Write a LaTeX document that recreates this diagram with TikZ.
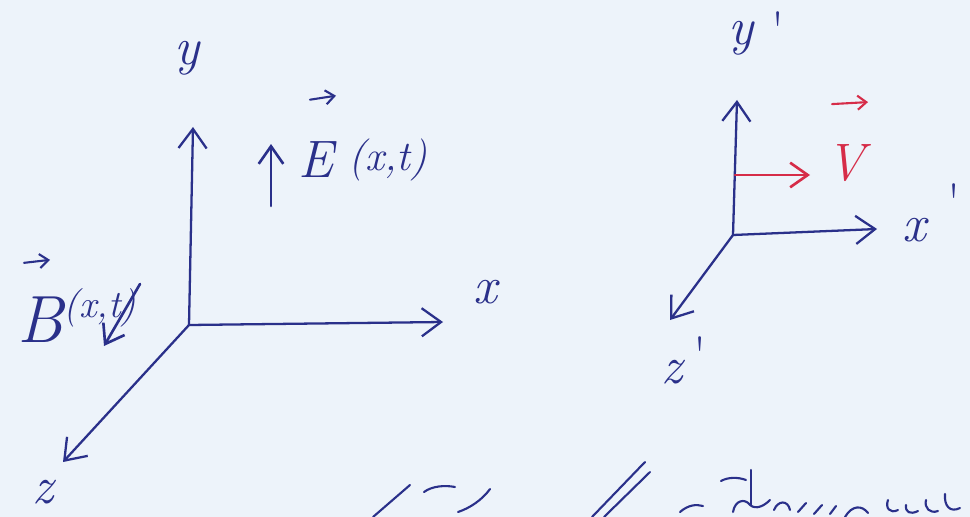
\documentclass[tikz,border=0pt]{standalone}
\usepackage{fontspec}
\usepackage{tikz}
\usetikzlibrary{arrows.meta, positioning, calc}

\definecolor{ink}{RGB}{42,48,138}
\definecolor{redink}{RGB}{214,44,72}
\definecolor{paper}{RGB}{237,243,250}

\begin{document}
\begin{tikzpicture}[
    x=0.02cm, y=-0.02cm,
    % Line styles
    axis/.style={
        draw=ink, line width=1.3pt, line cap=round,
        -{Straight Barb[length=11pt, width=16pt, line width=1.3pt]},
    },
    field/.style={
        draw=#1, line width=1.5pt, line cap=round,
        -{Straight Barb[length=10pt, width=14pt, line width=1.5pt]},
    },
    field/.default=ink,
    vecmark/.style={
        draw=#1, line width=1.2pt, line cap=round,
        -{Straight Barb[length=5pt, width=8pt, line width=1.2pt]},
    },
    vecmark/.default=ink,
    scrawl/.style={
        draw=ink, line width=1.2pt, line cap=round,
    },
    % Text styles
    hand/.style={
        text=#1, inner sep=0pt,
        font=\fontsize{30}{32}\selectfont\itshape,
    },
    hand/.default=ink,
    smallhand/.style={
        text=ink, inner sep=0pt,
        font=\fontsize{24}{26}\selectfont\itshape,
    },
    bighand/.style={
        text=ink, inner sep=0pt,
        font=\fontsize{38}{40}\selectfont\itshape,
    },
    tick/.style={
        text=ink, inner sep=0pt,
        font=\fontsize{30}{32}\selectfont,
    },
]

% === Paper ===
\fill[paper] (0,0) rectangle (970,517);
\useasboundingbox (0,0) rectangle (970,517);

% === Frame S: axes ===
\coordinate (O)  at (189,325);
\coordinate (Yt) at (193,127);
\coordinate (Xt) at (443,322);
\coordinate (Zt) at (63,462);

\draw[axis] (O) -- (Yt);
\draw[axis] (O) -- (Xt);
\draw[axis] (O) -- (Zt);

\node[hand] (ylab) at (187,58)  {y};
\node[hand] (xlab) at (485,292) {x};
\node[hand] (zlab) at (43,492)  {z};

% === Electric field ===
\coordinate (Ebot) at (271,206);
\coordinate (Etop) at (271,144);
\draw[field] (Ebot) -- (Etop);

\node[hand] (Elet)  at (316,160) {E};
\node[smallhand, right=8pt of Elet] (Eargs) {(x,t)};
\draw[vecmark] ([shift={(-6,-42)}]Elet.north) -- ([shift={(20,-46)}]Elet.north);

% === Magnetic field ===
\node[bighand] (Blet) at (40,320) {B};
\node[smallhand, right=0pt of Blet, yshift=7pt, font=\fontsize{22}{24}\selectfont\itshape] (Bargs) {(x,t)};
\draw[vecmark] ([shift={(-16,-34)}]Blet.north) -- ([shift={(10,-37)}]Blet.north);

\coordinate (Bs) at (140,284);
\coordinate (Be) at (104,346);
\draw[field] (Bs) -- (Be);

% === Frame S': axes ===
\coordinate (Op)  at (733,235);
\coordinate (Ypt) at (737,100);
\coordinate (Xpt) at (877,229);
\coordinate (Zpt) at (670,320);

\draw[axis] (Op) -- (Ypt);
\draw[axis] (Op) -- (Xpt);
\draw[axis] (Op) -- (Zpt);

\node[hand] (yplab) at (741,38)  {y};
\node[tick, above right=-16pt and 10pt of yplab] (ypr) {\textquotesingle};
\node[hand] (xplab) at (914,230) {x};
\node[tick, above right=-2pt and 12pt of xplab] (xpr) {\textquotesingle};
\node[hand] (zplab) at (672,372) {z};
\node[tick, above right=-8pt and 6pt of zplab] (zpr) {\textquotesingle};

% === Boost velocity ===
\coordinate (Vs) at (735,175);
\coordinate (Ve) at (810,175);
\draw[field=redink] (Vs) -- (Ve);

\node[hand=redink] (Vlet) at (846,163) {V};
\draw[vecmark=redink] ([shift={(-14,-40)}]Vlet.north) -- ([shift={(22,-42)}]Vlet.north);

% === Cut-off handwriting at the bottom ===
\draw[scrawl] (373,517) -- (410,485);
\draw[scrawl] (424,492) .. controls (432,486) and (445,485) .. (455,487);
\draw[scrawl] (458,512) .. controls (470,508) and (482,500) .. (490,489);
\draw[scrawl] (592,517) -- (645,462);
\draw[scrawl] (604,517) -- (650,472);
\draw[scrawl] (680,512) .. controls (688,505) and (696,504) .. (703,506);
\draw[scrawl] (721,481) .. controls (728,477) and (738,477) .. (746,480);
\draw[scrawl] (751,470) -- (751,505);
\draw[scrawl] (733,512) .. controls (735,500) and (745,498) .. (750,505)
    .. controls (756,510) and (764,506) .. (770,500);
\draw[scrawl] (774,510) .. controls (778,500) and (788,500) .. (790,510);
\draw[scrawl] (798,512) -- (806,503);
\draw[scrawl] (814,514) -- (822,505);
\draw[scrawl] (830,514) -- (836,506);
\draw[scrawl] (845,517) .. controls (852,505) and (862,505) .. (868,513);
\draw[scrawl] (888,500) .. controls (885,508) and (890,514) .. (898,510);
\draw[scrawl] (906,505) .. controls (905,512) and (910,515) .. (918,511);
\draw[scrawl] (926,500) .. controls (924,508) and (930,514) .. (938,511);
\draw[scrawl] (945,494) .. controls (944,506) and (950,513) .. (960,508);

\end{tikzpicture}
\end{document}
